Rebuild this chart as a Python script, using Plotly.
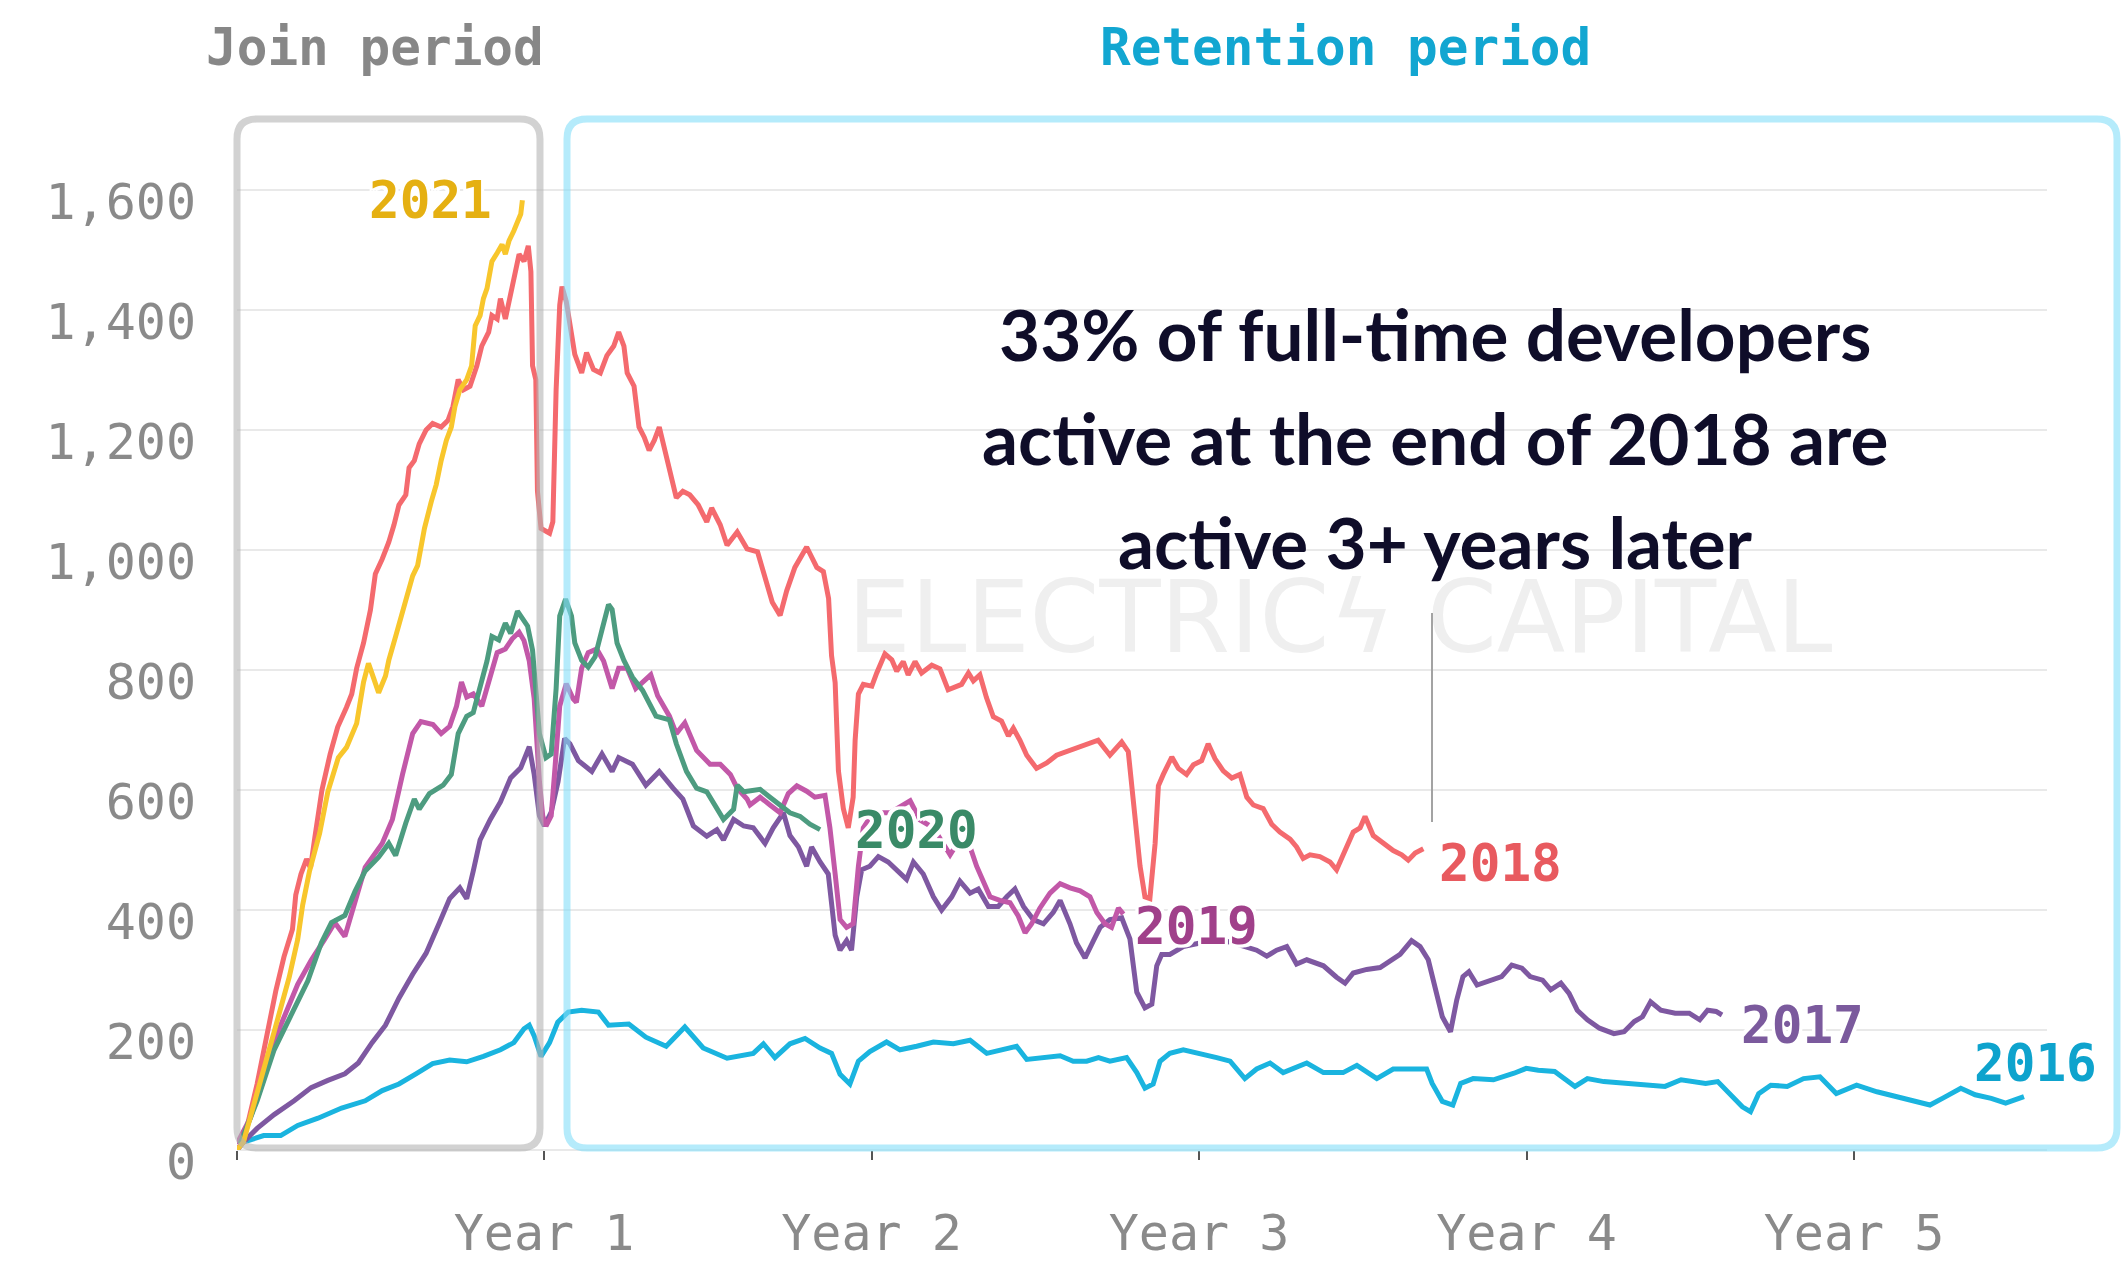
import plotly.graph_objects as go

# ---------------- data (x = years since joining, y = active full-time developers) ----------------
YEAR_TICKS = [1, 2, 3, 4, 5]
YEAR_LABELS = ["Year 1", "Year 2", "Year 3", "Year 4", "Year 5"]
Y_TICKS = [0, 200, 400, 600, 800, 1000, 1200, 1400, 1600]
Y_LABELS = ["0", "200", "400", "600", "800", "1,000", "1,200", "1,400", "1,600"]

COHORTS = ["2016", "2017", "2018", "2019", "2020", "2021"]

s2016 = [(0.062, 0), (0.082, 13), (0.144, 24), (0.196, 24), (0.248, 41), (0.310, 53), (0.382, 70), (0.454, 82),
         (0.506, 99), (0.557, 110), (0.609, 127), (0.660, 144), (0.712, 150), (0.764, 147), (0.815, 156),
         (0.867, 167), (0.908, 179), (0.939, 202), (0.955, 208), (0.970, 190), (0.991, 156), (1.017, 179),
         (1.042, 213), (1.074, 230), (1.115, 233), (1.166, 230), (1.197, 208), (1.259, 210), (1.311, 188),
         (1.373, 173), (1.430, 205), (1.486, 170), (1.559, 153), (1.620, 159), (1.639, 161), (1.670, 177),
         (1.705, 154), (1.751, 177), (1.797, 186), (1.843, 170), (1.878, 161), (1.904, 126), (1.934, 110),
         (1.960, 148), (1.995, 164), (2.046, 180), (2.087, 167), (2.138, 173), (2.189, 180), (2.250, 177),
         (2.301, 183), (2.352, 161), (2.402, 167), (2.443, 173), (2.474, 151), (2.535, 154), (2.576, 157),
         (2.616, 148), (2.657, 148), (2.693, 154), (2.728, 148), (2.779, 154), (2.810, 129), (2.835, 103),
         (2.860, 110), (2.881, 148), (2.911, 161), (2.952, 167), (3.003, 161), (3.054, 154), (3.095, 148),
         (3.140, 119), (3.176, 135), (3.217, 145), (3.257, 129), (3.329, 145), (3.380, 129), (3.440, 129),
         (3.482, 141), (3.543, 119), (3.593, 135), (3.654, 135), (3.695, 135), (3.712, 111), (3.743, 81),
         (3.775, 75), (3.799, 111), (3.837, 119), (3.899, 117), (3.962, 128), (3.999, 136), (4.036, 133),
         (4.086, 131), (4.148, 106), (4.186, 119), (4.236, 114), (4.298, 111), (4.361, 108), (4.423, 106),
         (4.472, 117), (4.547, 111), (4.584, 114), (4.622, 94), (4.659, 72), (4.684, 64), (4.709, 94),
         (4.746, 108), (4.796, 106), (4.846, 119), (4.896, 122), (4.946, 94), (5.008, 108), (5.070, 97),
         (5.133, 89), (5.183, 81), (5.232, 75), (5.270, 86), (5.326, 103), (5.370, 92), (5.419, 86),
         (5.463, 78), (5.519, 89)]

s2017 = [(0.062, 0), (0.082, 13), (0.124, 36), (0.176, 59), (0.237, 82), (0.289, 104), (0.340, 116), (0.392, 127),
         (0.433, 145), (0.475, 179), (0.516, 208), (0.557, 253), (0.599, 293), (0.640, 328), (0.681, 379),
         (0.712, 419), (0.743, 437), (0.764, 419), (0.784, 465), (0.805, 517), (0.836, 551), (0.867, 580),
         (0.898, 620), (0.929, 637), (0.955, 672), (0.970, 626), (0.986, 557), (1.001, 540), (1.022, 563),
         (1.043, 614), (1.063, 686), (1.079, 677), (1.105, 649), (1.146, 631), (1.177, 660), (1.208, 631),
         (1.228, 654), (1.270, 643), (1.311, 608), (1.352, 631), (1.394, 603), (1.424, 585), (1.456, 540),
         (1.497, 523), (1.528, 534), (1.548, 517), (1.579, 551), (1.610, 540), (1.639, 537), (1.675, 511),
         (1.700, 537), (1.731, 562), (1.751, 524), (1.777, 505), (1.802, 473), (1.817, 505), (1.843, 480),
         (1.868, 460), (1.889, 358), (1.904, 333), (1.924, 349), (1.939, 333), (1.955, 422), (1.970, 467),
         (1.995, 473), (2.021, 489), (2.051, 480), (2.077, 467), (2.107, 451), (2.128, 480), (2.158, 460),
         (2.189, 422), (2.214, 400), (2.245, 422), (2.270, 448), (2.301, 428), (2.326, 435), (2.357, 406),
         (2.387, 406), (2.413, 422), (2.438, 435), (2.464, 406), (2.494, 384), (2.525, 377), (2.555, 396),
         (2.576, 416), (2.606, 377), (2.626, 345), (2.652, 320), (2.677, 348), (2.698, 371), (2.728, 384),
         (2.764, 387), (2.789, 352), (2.810, 263), (2.835, 237), (2.856, 243), (2.871, 307), (2.886, 326),
         (2.911, 326), (2.952, 339), (3.003, 345), (3.054, 352), (3.105, 345), (3.176, 333), (3.207, 323),
         (3.237, 333), (3.268, 339), (3.298, 310), (3.329, 317), (3.380, 307), (3.420, 288), (3.446, 278),
         (3.471, 295), (3.512, 301), (3.553, 304), (3.583, 314), (3.614, 326), (3.649, 349), (3.675, 339),
         (3.700, 317), (3.725, 261), (3.743, 222), (3.768, 197), (3.787, 250), (3.806, 289), (3.824, 297),
         (3.849, 275), (3.887, 281), (3.924, 289), (3.955, 308), (3.986, 303), (4.011, 289), (4.049, 283),
         (4.074, 267), (4.105, 278), (4.130, 261), (4.155, 233), (4.186, 217), (4.223, 203), (4.267, 194),
         (4.298, 197), (4.329, 214), (4.354, 222), (4.379, 247), (4.410, 233), (4.454, 228), (4.497, 228),
         (4.529, 217), (4.553, 233), (4.579, 231), (4.597, 225)]

s2018 = [(0.062, 0), (0.082, 13), (0.124, 110), (0.155, 197), (0.181, 265), (0.206, 322), (0.232, 368), (0.242, 425),
         (0.258, 460), (0.275, 485), (0.287, 470), (0.300, 520), (0.322, 600), (0.347, 660), (0.370, 705),
         (0.397, 738), (0.413, 760), (0.428, 803), (0.449, 845), (0.470, 900), (0.485, 960), (0.506, 985),
         (0.526, 1013), (0.542, 1042), (0.557, 1075), (0.578, 1092), (0.588, 1137), (0.604, 1149), (0.619, 1177),
         (0.640, 1200), (0.660, 1211), (0.686, 1205), (0.707, 1216), (0.722, 1239), (0.738, 1284), (0.754, 1267),
         (0.774, 1273), (0.795, 1307), (0.810, 1340), (0.831, 1363), (0.841, 1391), (0.857, 1385), (0.867, 1419),
         (0.882, 1385), (0.898, 1425), (0.914, 1470), (0.924, 1493), (0.939, 1481), (0.952, 1507), (0.960, 1464),
         (0.965, 1307), (0.975, 1284), (0.980, 1098), (0.991, 1036), (1.006, 1030), (1.017, 1028), (1.027, 1047),
         (1.037, 1267), (1.048, 1408), (1.055, 1439), (1.068, 1414), (1.084, 1352), (1.094, 1326), (1.115, 1295),
         (1.130, 1329), (1.151, 1301), (1.172, 1295), (1.192, 1324), (1.213, 1340), (1.228, 1363), (1.244, 1340),
         (1.254, 1295), (1.275, 1273), (1.290, 1205), (1.306, 1188), (1.321, 1166), (1.337, 1183), (1.352, 1205),
         (1.368, 1166), (1.383, 1137), (1.404, 1087), (1.424, 1098), (1.445, 1092), (1.471, 1075), (1.497, 1047),
         (1.512, 1070), (1.538, 1042), (1.559, 1008), (1.590, 1030), (1.620, 1002), (1.652, 997), (1.697, 913),
         (1.721, 891), (1.741, 932), (1.766, 971), (1.802, 1005), (1.833, 971), (1.853, 964), (1.869, 919),
         (1.878, 824), (1.889, 779), (1.899, 632), (1.914, 569), (1.929, 537), (1.944, 588), (1.950, 683),
         (1.960, 760), (1.975, 776), (2.001, 773), (2.016, 795), (2.041, 827), (2.062, 817), (2.077, 798),
         (2.097, 814), (2.112, 792), (2.133, 814), (2.153, 795), (2.184, 808), (2.209, 802), (2.234, 767),
         (2.260, 773), (2.275, 776), (2.296, 795), (2.311, 782), (2.331, 792), (2.351, 754), (2.372, 722),
         (2.397, 715), (2.418, 690), (2.433, 703), (2.453, 683), (2.474, 658), (2.504, 636), (2.535, 645),
         (2.565, 658), (2.596, 664), (2.626, 671), (2.657, 677), (2.692, 683), (2.728, 658), (2.764, 680),
         (2.784, 664), (2.799, 588), (2.820, 473), (2.835, 422), (2.850, 419), (2.866, 511), (2.876, 607),
         (2.891, 626), (2.917, 655), (2.937, 636), (2.962, 626), (2.983, 642), (3.008, 649), (3.028, 677),
         (3.049, 652), (3.074, 632), (3.100, 620), (3.125, 626), (3.146, 588), (3.166, 575), (3.196, 569),
         (3.222, 543), (3.247, 530), (3.278, 518), (3.298, 505), (3.318, 486), (3.339, 492), (3.369, 489),
         (3.400, 480), (3.420, 467), (3.440, 492), (3.471, 530), (3.492, 537), (3.507, 556), (3.532, 524),
         (3.563, 511), (3.593, 499), (3.619, 492), (3.639, 483), (3.660, 495), (3.685, 502)]

s2019 = [(0.062, 10), (0.103, 53), (0.155, 139), (0.196, 208), (0.248, 276), (0.289, 316), (0.330, 351), (0.361, 379),
         (0.392, 356), (0.413, 396), (0.454, 471), (0.506, 511), (0.537, 551), (0.568, 626), (0.599, 694),
         (0.624, 714), (0.661, 709), (0.686, 694), (0.712, 706), (0.733, 740), (0.748, 780), (0.764, 755),
         (0.784, 760), (0.810, 740), (0.826, 769), (0.841, 797), (0.857, 829), (0.882, 835), (0.903, 852),
         (0.924, 863), (0.939, 849), (0.955, 815), (0.970, 752), (0.986, 614), (0.996, 557), (1.006, 540),
         (1.022, 557), (1.032, 626), (1.048, 740), (1.068, 777), (1.089, 752), (1.099, 746), (1.115, 803),
         (1.135, 829), (1.161, 835), (1.182, 815), (1.208, 769), (1.228, 803), (1.254, 803), (1.280, 769),
         (1.326, 792), (1.347, 757), (1.383, 723), (1.404, 694), (1.430, 712), (1.466, 666), (1.507, 643),
         (1.538, 643), (1.569, 626), (1.590, 603), (1.620, 585), (1.629, 575), (1.660, 588), (1.690, 575),
         (1.721, 562), (1.746, 594), (1.772, 607), (1.802, 598), (1.827, 588), (1.858, 591), (1.873, 537),
         (1.889, 460), (1.904, 384), (1.924, 371), (1.944, 377), (1.960, 473), (1.975, 537), (2.005, 562),
         (2.056, 562), (2.118, 582), (2.148, 550), (2.189, 537), (2.240, 492), (2.270, 518), (2.301, 505),
         (2.321, 473), (2.341, 448), (2.362, 422), (2.392, 416), (2.423, 412), (2.448, 390), (2.469, 362),
         (2.489, 377), (2.514, 403), (2.545, 428), (2.576, 444), (2.606, 437), (2.637, 432), (2.667, 422),
         (2.688, 396), (2.713, 377), (2.733, 371), (2.754, 403), (2.769, 393)]

s2020 = [(0.072, 10), (0.124, 82), (0.176, 167), (0.227, 225), (0.279, 282), (0.320, 345), (0.351, 379), (0.392, 391),
         (0.423, 431), (0.454, 465), (0.495, 488), (0.526, 511), (0.547, 491), (0.578, 545), (0.604, 585),
         (0.619, 568), (0.650, 594), (0.692, 608), (0.717, 626), (0.738, 694), (0.764, 723), (0.784, 729),
         (0.805, 769), (0.826, 815), (0.841, 856), (0.862, 850), (0.882, 878), (0.898, 861), (0.919, 898),
         (0.934, 884), (0.950, 873), (0.965, 833), (0.986, 694), (1.006, 654), (1.022, 660), (1.037, 769),
         (1.048, 890), (1.066, 918), (1.084, 890), (1.094, 845), (1.115, 816), (1.135, 805), (1.156, 822),
         (1.177, 867), (1.197, 909), (1.208, 901), (1.223, 845), (1.244, 816), (1.270, 788), (1.301, 766),
         (1.342, 723), (1.383, 717), (1.404, 677), (1.435, 631), (1.466, 603), (1.497, 597), (1.528, 568),
         (1.548, 551), (1.579, 568), (1.590, 608), (1.610, 597), (1.629, 598), (1.660, 601), (1.690, 588),
         (1.721, 575), (1.751, 562), (1.782, 556), (1.812, 543), (1.843, 534)]

s2021 = [(0.062, 0), (0.082, 13), (0.176, 197), (0.222, 288), (0.248, 351), (0.263, 408), (0.284, 465), (0.315, 528),
         (0.340, 597), (0.372, 654), (0.397, 671), (0.428, 711), (0.449, 780), (0.464, 811), (0.480, 786),
         (0.495, 762), (0.516, 790), (0.526, 816), (0.547, 856), (0.578, 912), (0.599, 957), (0.614, 974),
         (0.635, 1036), (0.656, 1081), (0.671, 1109), (0.686, 1149), (0.702, 1183), (0.717, 1205), (0.728, 1239),
         (0.743, 1267), (0.764, 1284), (0.779, 1307), (0.784, 1340), (0.790, 1374), (0.805, 1391), (0.815, 1419),
         (0.826, 1436), (0.841, 1481), (0.857, 1495), (0.872, 1509), (0.882, 1493), (0.893, 1515), (0.908, 1532),
         (0.919, 1549), (0.929, 1560), (0.934, 1583)]

# label anchor points (years, developers)
LABEL_POS = {"2016": (5.553, 145), "2017": (4.844, 208), "2018": (3.922, 478),
             "2019": (2.991, 372), "2020": (2.136, 533), "2021": (0.652, 1582)}

SERIES = {"2016": s2016, "2017": s2017, "2018": s2018, "2019": s2019, "2020": s2020, "2021": s2021}
LINE_COLORS = {"2016": "#1ab4df", "2017": "#7e58a1", "2018": "#f46a6e",
               "2019": "#c258a8", "2020": "#4d9c80", "2021": "#f8c62c"}
LABEL_COLORS = {"2016": "#0ea3cd", "2017": "#7b5a9d", "2018": "#e85a5f",
                "2019": "#a0408a", "2020": "#3a8a67", "2021": "#e5b012"}

ANNOT_LINES = ["33% of full-time developers", "active at the end of 2018 are", "active 3+ years later"]

# ---------------- geometry ----------------
W, H = 2122, 1263
ML, MR, MT, MB = 237, 75, 130, 113
PW, PH = W - ML - MR, H - MT - MB
X_ORIGIN_PX, YEAR_PX = 216.5, 327.5          # pixel of year 0 and pixels per year
X_RANGE = [(ML - X_ORIGIN_PX) / YEAR_PX, (W - MR - X_ORIGIN_PX) / YEAR_PX]
Y_RANGE = [0, 1700]


def px(X):
    return (X - ML) / PW


def py(Y):
    return (H - MB - Y) / PH


def rounded_rect(x0, y0, x1, y1, r):
    def P(x, y):
        return f"{px(x):.5f},{py(y):.5f}"
    return (f"M{P(x0 + r, y0)} L{P(x1 - r, y0)} Q{P(x1, y0)} {P(x1, y0 + r)} "
            f"L{P(x1, y1 - r)} Q{P(x1, y1)} {P(x1 - r, y1)} L{P(x0 + r, y1)} "
            f"Q{P(x0, y1)} {P(x0, y1 - r)} L{P(x0, y0 + r)} Q{P(x0, y0)} {P(x0 + r, y0)} Z")


MONO = "DejaVu Sans Mono"
HALO = ("3px 0 0 #fff, -3px 0 0 #fff, 0 3px 0 #fff, 0 -3px 0 #fff, "
        "3px 3px 0 #fff, -3px -3px 0 #fff, 3px -3px 0 #fff, -3px 3px 0 #fff")

fig = go.Figure()

# watermark (drawn first, beneath the lines)
fig.add_trace(go.Scatter(
    x=[(1340 - X_ORIGIN_PX) / YEAR_PX], y=[(H - MB - 627) / 0.6], mode="text",
    text=["ELECTRIC\u03df CAPITAL"], textposition="middle center",
    textfont=dict(family="DejaVu Sans", size=100, color="#efefef"),
    hoverinfo="skip", showlegend=False))

for name in COHORTS:
    pts = SERIES[name]
    fig.add_trace(go.Scatter(
        x=[p[0] for p in pts], y=[p[1] for p in pts], mode="lines", name=name,
        line=dict(color=LINE_COLORS[name], width=5), hoverinfo="skip", showlegend=False))

annotations = []
for name in COHORTS:
    lx, ly = LABEL_POS[name]
    annotations.append(dict(x=lx, y=ly, xref="x", yref="y", text=name, showarrow=False,
                            xanchor="center", yanchor="middle",
                            font=dict(family=MONO, size=51, color=LABEL_COLORS[name], weight="bold",
                                      shadow=HALO)))

annotations.append(dict(x=px(375), y=py(47), xref="paper", yref="paper", text="Join period",
                        showarrow=False, xanchor="center", yanchor="middle",
                        font=dict(family=MONO, size=51, color="#878787", weight="bold")))
annotations.append(dict(x=px(1345), y=py(47), xref="paper", yref="paper", text="Retention period",
                        showarrow=False, xanchor="center", yanchor="middle",
                        font=dict(family=MONO, size=51, color="#12a6d1", weight="bold")))

for i, line in enumerate(ANNOT_LINES):
    annotations.append(dict(x=px(1435), y=py([334, 437, 541][i]), xref="paper", yref="paper", text=line,
                            showarrow=False, xanchor="center", yanchor="middle",
                            font=dict(family="Lato", size=71, color="#0f0d29", weight="bold")))

shapes = [
    dict(type="path", xref="paper", yref="paper", layer="above",
         path=rounded_rect(237, 119, 540, 1148, 20),
         line=dict(color="rgba(180,180,180,0.6)", width=7), fillcolor="rgba(0,0,0,0)"),
    dict(type="path", xref="paper", yref="paper", layer="above",
         path=rounded_rect(567, 119, 2117, 1148, 20),
         line=dict(color="rgba(132,222,248,0.6)", width=7), fillcolor="rgba(0,0,0,0)"),
    dict(type="line", xref="x", yref="y", layer="above",
         x0=(1432 - X_ORIGIN_PX) / YEAR_PX, x1=(1432 - X_ORIGIN_PX) / YEAR_PX,
         y0=(H - MB - 613) / 0.6, y1=(H - MB - 822) / 0.6,
         line=dict(color="#a3a3a3", width=2)),
]

fig.update_layout(
    width=W, height=H,
    margin=dict(l=ML, r=MR, t=MT, b=MB, autoexpand=False),
    paper_bgcolor="white", plot_bgcolor="white",
    showlegend=False,
    annotations=annotations, shapes=shapes,
    xaxis=dict(range=X_RANGE, tickmode="array", tickvals=[X_RANGE[0]] + YEAR_TICKS,
               ticktext=[""] + YEAR_LABELS, showgrid=False, zeroline=False, showline=False,
               ticks="outside", ticklen=9, tickwidth=2, tickcolor="#555555",
               tickfont=dict(family=MONO, size=50, color="#8a8a8a"),
               ticklabelstandoff=30, automargin=False, fixedrange=True),
    yaxis=dict(range=Y_RANGE, tickmode="array", tickvals=Y_TICKS, ticktext=Y_LABELS,
               showgrid=True, gridcolor="#e9e9e9", gridwidth=2,
               zeroline=True, zerolinecolor="#e9e9e9", zerolinewidth=2, showline=False,
               ticks="", tickfont=dict(family=MONO, size=50, color="#8a8a8a"),
               ticklabelstandoff=40, ticklabelshift=11, automargin=False, fixedrange=True),
)

fig.write_html("out.html", config={"displayModeBar": False},
               post_script="document.body.style.margin='0px';document.body.style.overflow='hidden';")
